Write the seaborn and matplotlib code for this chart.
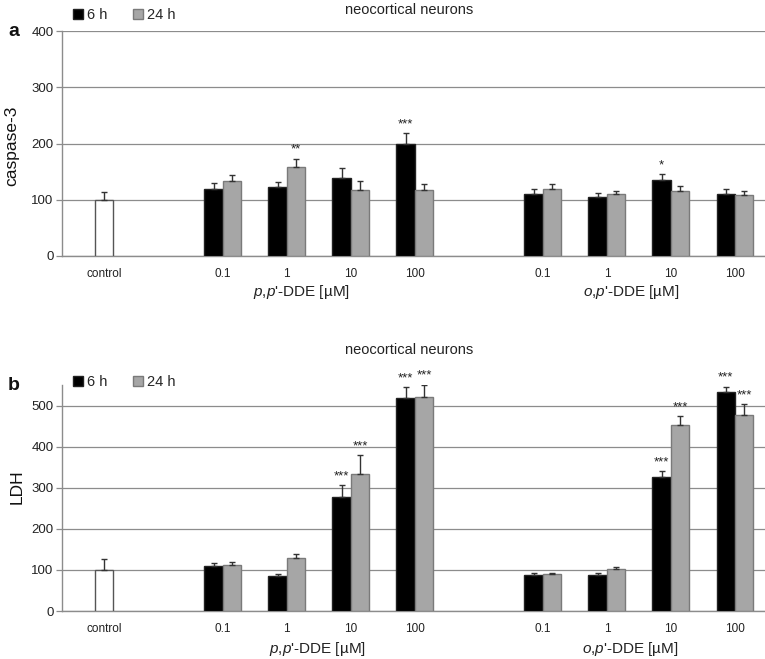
import pandas as pd
import seaborn as sns
import matplotlib.pyplot as plt
from matplotlib.lines import Line2D

# dose labels, p,p'-DDE group first, then o,p'-DDE group
doses = ["0.1", "1", "10", "100", "0.1", "1", "10", "100"]

# panel a: caspase-3 (% of control)
casp_ctrl, casp_ctrl_err = 100, 13
casp_6h = [120, 122, 138, 199, 111, 105, 135, 110]
casp_6h_err = [9, 10, 18, 19, 8, 7, 10, 9]
casp_24h = [133, 158, 118, 117, 120, 110, 115, 108]
casp_24h_err = [11, 15, 16, 11, 8, 6, 10, 8]
casp_6h_sig = ["", "", "", "***", "", "", "*", ""]
casp_24h_sig = ["", "**", "", "", "", "", "", ""]

# panel b: LDH (% of control)
ldh_ctrl, ldh_ctrl_err = 100, 26
ldh_6h = [110, 85, 278, 518, 88, 88, 326, 533]
ldh_6h_err = [6, 4, 29, 27, 4, 4, 15, 13]
ldh_24h = [113, 128, 333, 521, 89, 101, 452, 478]
ldh_24h_err = [6, 11, 47, 30, 4, 6, 22, 26]
ldh_6h_sig = ["", "", "***", "***", "", "", "***", "***"]
ldh_24h_sig = ["", "", "***", "***", "", "", "***", "***"]

sns.set_style("white")
plt.rcParams["font.family"] = ["Liberation Sans", "DejaVu Sans"]
plt.rcParams["mathtext.fontset"] = "custom"
plt.rcParams["mathtext.rm"] = "Liberation Sans"
plt.rcParams["mathtext.it"] = "Liberation Sans:italic"

W = 765.0
H = 659.0
fig = plt.figure(figsize=(W / 100, H / 100), dpi=100)

bw = 0.2875                          # width of one bar in category units
centers = [2, 3, 4, 5, 7, 8, 9, 10]  # group centres
ctrl_pos = bw / 2

palette = {"control": "white", "6 h": "black", "24 h": "#a6a6a6"}
edges = {"control": "#555555", "6 h": "#222222", "24 h": "#7a7a7a"}

panels = [
    dict(letter="a", ylabel="caspase-3", top=31, bottom=256, ymax=400, yticks=[0, 100, 200, 300, 400],
         ctrl=casp_ctrl, ctrl_err=casp_ctrl_err, v6=casp_6h, e6=casp_6h_err, v24=casp_24h, e24=casp_24h_err,
         s6=casp_6h_sig, s24=casp_24h_sig, title_y=9.5, leg_y=15, xl_y=292, pp_x=301, op_x=631, ylab=(19, 146)),
    dict(letter="b", ylabel="LDH", top=385, bottom=611, ymax=550, yticks=[0, 100, 200, 300, 400, 500],
         ctrl=ldh_ctrl, ctrl_err=ldh_ctrl_err, v6=ldh_6h, e6=ldh_6h_err, v24=ldh_24h, e24=ldh_24h_err,
         s6=ldh_6h_sig, s24=ldh_24h_sig, title_y=349.5, leg_y=382, xl_y=649, pp_x=317, op_x=630, ylab=(25, 487)),
]

for p in panels:
    ax = fig.add_axes([62 / W, 1 - p["bottom"] / H, 703 / W, (p["bottom"] - p["top"]) / H])

    # one row per bar
    pos = [ctrl_pos] + [c - bw / 2 for c in centers] + [c + bw / 2 for c in centers]
    vals = [p["ctrl"]] + p["v6"] + p["v24"]
    errs = [p["ctrl_err"]] + p["e6"] + p["e24"]
    series = ["control"] + ["6 h"] * 8 + ["24 h"] * 8
    sig = [""] + p["s6"] + p["s24"]
    df = pd.DataFrame({"pos": pos, "value": vals, "err": errs, "series": series, "sig": sig})

    sns.barplot(data=df, x="pos", y="value", hue="series", palette=palette, native_scale=True,
                dodge=False, width=1.0, errorbar=None, legend=False, ax=ax, zorder=3)

    # edge colour per series, matched by bar position
    for patch in ax.patches:
        patch.set_linewidth(1.0)
        xc = patch.get_x() + patch.get_width() / 2
        match = df[(df["pos"] - xc).abs() < 1e-6]
        if len(match):
            patch.set_edgecolor(edges[match["series"].iloc[0]])

    ax.errorbar(df["pos"], df["value"], yerr=[[0] * len(df), df["err"]], fmt="none",
                ecolor="#333333", elinewidth=1.0, capsize=2, capthick=1.0, zorder=4)

    for _, r in df[df["sig"] != ""].iterrows():
        ax.annotate(r["sig"], (r["pos"], r["value"] + r["err"]), xytext=(0, 2), textcoords="offset points",
                    ha="center", va="bottom", fontsize=9.5, color="#222222", annotation_clip=False)

    ax.set_xlim(-0.511, 10.47)
    ax.set_ylim(0, p["ymax"])
    ax.set_yticks(p["yticks"])
    ax.set_xticks([ctrl_pos] + centers, ["control"] + doses)
    ax.yaxis.grid(True, color="#8c8c8c", linewidth=0.9, zorder=0)
    ax.set_axisbelow(True)
    for side in ["top", "right"]:
        ax.spines[side].set_visible(False)
    for side in ["left", "bottom"]:
        ax.spines[side].set_color("#8c8c8c")
        ax.spines[side].set_linewidth(1.0)
    ax.tick_params(axis="y", left=True, length=4, width=0.9, color="#8c8c8c", labelsize=9.5,
                   labelcolor="#222222", pad=2)
    ax.tick_params(axis="x", bottom=False, labelsize=8.5, labelcolor="#222222", pad=5)
    ax.set_xlabel("")
    ax.set_ylabel(p["ylabel"], fontsize=12.5, color="#111111")
    ax.yaxis.set_label_coords((p["ylab"][0] - 62) / 703,
                              (p["bottom"] - p["ylab"][1]) / (p["bottom"] - p["top"]))

    fig.text(409 / W, 1 - p["title_y"] / H, "neocortical neurons", ha="center", va="center",
             fontsize=10.5, color="#222222")
    fig.text(14 / W, 1 - p["top"] / H, p["letter"], ha="center", va="center",
             fontsize=14, fontweight="bold", color="#111111")
    fig.text(p["pp_x"] / W, 1 - p["xl_y"] / H, r"$\mathit{p}$,$\mathit{p}$'-DDE [µM]",
             ha="center", va="center", fontsize=11, color="#222222")
    fig.text(p["op_x"] / W, 1 - p["xl_y"] / H, r"$\mathit{o}$,$\mathit{p}$'-DDE [µM]",
             ha="center", va="center", fontsize=11, color="#222222")

    handles = [Line2D([], [], ls="", marker="s", markersize=7.5, markerfacecolor=palette[k],
                      markeredgecolor=edges[k]) for k in ["6 h", "24 h"]]
    fig.legend(handles, ["6 h", "24 h"], loc="center left", bbox_to_anchor=(71 / W, 1 - p["leg_y"] / H),
               ncol=2, frameon=False, fontsize=10.5, handletextpad=0.1, columnspacing=1.6,
               handlelength=1.0, borderaxespad=0, borderpad=0)

fig.savefig("out.png", dpi=100)
